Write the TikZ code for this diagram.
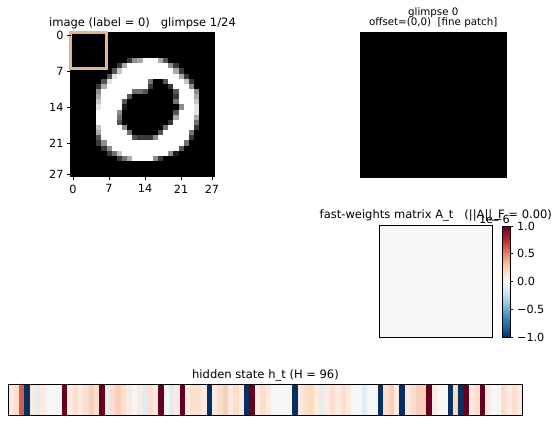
\documentclass[tikz,border=0pt]{standalone}
\usepackage{fontspec}
\setmainfont{DejaVu Sans}
\definecolor{burly}{RGB}{222,184,135}
\definecolor{rb1}{HTML}{67001F}
\definecolor{rb2}{HTML}{B2182B}
\definecolor{rb3}{HTML}{D6604D}
\definecolor{rb4}{HTML}{F4A582}
\definecolor{rb5}{HTML}{FDDBC7}
\definecolor{rb6}{HTML}{F7F7F7}
\definecolor{rb7}{HTML}{D1E5F0}
\definecolor{rb8}{HTML}{92C5DE}
\definecolor{rb9}{HTML}{4393C3}
\definecolor{rb10}{HTML}{2166AC}
\definecolor{rb11}{HTML}{053061}
\definecolor{hR}{HTML}{67001F}
\definecolor{hB}{HTML}{053061}
\definecolor{hS}{HTML}{D6604D}
\definecolor{ha}{RGB}{250,234,224}
\definecolor{hb}{RGB}{252,222,205}
\definecolor{hc}{RGB}{248,207,186}
\definecolor{hw}{RGB}{246,246,246}
\definecolor{hu}{RGB}{228,236,241}
\definecolor{ho}{RGB}{252,221,185}
\begin{document}
\begin{tikzpicture}[x=0.72pt,y=-0.72pt,
  ttl/.style={font=\fontsize{8.3}{10}\selectfont, inner sep=0pt, anchor=base},
  sttl/.style={font=\fontsize{7.4}{9}\selectfont, inner sep=0pt, anchor=base},
  tck/.style={font=\fontsize{8.1}{9.5}\selectfont, inner sep=0pt},
  spine/.style={draw=black, line width=0.6pt},
  tickline/.style={line width=0.6pt}]
\useasboundingbox (0,0) rectangle (560,423);
\def\s{5.142857}
% ---------- MNIST image ----------
\fill[black] (70.5,32.5) rectangle (214.5,176.5);
\foreach \r/\cs in {
 5/{11/11/2,12/12/5,13/13/6,14/16/9,17/17/6,18/18/3},
 6/{9/9/2,10/10/6,11/18/9,19/19/5,20/20/2},
 7/{8/8/3,9/9/7,10/19/9,20/20/6,21/21/2},
 8/{7/7/3,8/8/8,9/20/9,21/21/6,22/22/2},
 9/{6/6/3,7/7/8,8/14/9,15/15/4,18/18/3,19/21/9,22/22/7,23/23/2},
 10/{5/5/2,6/6/6,7/14/9,15/15/2,19/19/2,20/22/9,23/23/5},
 11/{5/5/5,6/11/9,12/13/4,14/14/3,20/20/3,21/23/9,24/24/5},
 12/{5/5/6,6/10/9,11/11/3,20/20/2,21/23/9,24/24/6},
 13/{5/5/7,6/9/9,10/10/3,20/20/4,21/23/9,24/24/7},
 14/{5/5/8,6/9/9,10/10/1,21/21/5,22/23/9,24/24/8},
 15/{5/8/9,9/9/5,20/20/3,21/23/9,24/24/8},
 16/{5/8/9,9/9/4,20/20/6,21/23/9,24/24/6},
 17/{5/8/9,9/9/3,19/19/2,20/23/9,24/24/4},
 18/{5/5/7,6/9/9,10/10/5,18/18/4,19/23/9,24/24/2},
 19/{5/5/6,6/10/9,11/11/4,17/17/3,18/22/9,23/23/4},
 20/{5/5/3,6/11/9,12/12/3,13/15/2,16/16/5,17/22/9,23/23/2},
 21/{5/5/2,6/6/5,7/21/9,22/22/4},
 22/{6/6/2,7/7/5,8/20/9,21/21/3},
 23/{7/7/2,8/8/4,9/9/7,10/18/9,19/19/5,20/20/1},
 24/{9/9/2,10/10/4,11/11/6,12/15/9,16/16/5,17/17/2}}{
  \foreach \a/\b/\v in \cs {
    \pgfmathsetmacro\g{\v*100/9}
    \fill[white!\g!black] ({70.5+\a*\s},{32.5+\r*\s}) rectangle ({70.5+(\b+1)*\s},{32.5+(\r+1)*\s});
  }
}
\draw[spine] (70.5,32.5) rectangle (214.5,176.5);
\draw[burly, line width=1.5pt] (70.5,32.5) rectangle ({70.5+7*\s},{32.5+7*\s});
\foreach \t in {0,7,14,21,27}{
  \draw[tickline] (70.5,{32.5+(\t+0.5)*\s}) -- (67.1,{32.5+(\t+0.5)*\s});
  \node[tck, anchor=east] (yl\t) at (63.7,{32.5+(\t+0.5)*\s}) {\t};
  \draw[tickline] ({70.5+(\t+0.5)*\s},176.5) -- ({70.5+(\t+0.5)*\s},179.9);
  \node[tck, anchor=north] (xl\t) at ({70.5+(\t+0.5)*\s},184.5) {\t};
}
\node[ttl] (t1) at (142.5,26.5) {image (label = 0)\ \ \ glimpse 1/24};
% ---------- glimpse ----------
\fill[black] (360,32.3) rectangle (506.5,178.3);
\node[sttl] (t2a) at (433.25,15.3) {glimpse 0};
\node[sttl] (t2b) at (433.25,26) {offset=(0,0)\ \ [fine patch]};
% ---------- fast weights ----------
\fill[rb6] (379.3,225) rectangle (492.3,337);
\draw[spine] (379.3,225) rectangle (492.3,337);
\node[ttl] (t3) at (435.8,218) {fast-weights matrix A\_t\ \ \ (||A||\_F = 0.00)};
\foreach \i [evaluate=\i as \j using int(\i+1)] in {1,...,10}{
  \shade[top color=rb\i, bottom color=rb\j] (502,{226+(\i-1)*11.1}) rectangle (510,{226+\i*11.1});
}
\draw[spine] (502,226) rectangle (510,337);
\foreach \v/\lab [count=\k] in {0/1.0,1/0.5,2/0.0,3/−0.5,4/−1.0}{
  \draw[tickline] (510,{226+\v*27.75}) -- (513.4,{226+\v*27.75});
  \node[tck, anchor=west] (cl\k) at (516.8,{226+\v*27.75}) {\lab};
}
\node[tck, anchor=base east] (off) at (510,223) {1e−6};
% ---------- hidden state ----------
\node[ttl] (t4) at (265.5,378) {hidden state h\_t (H = 96)};
\foreach \c [count=\i from 0] in {a,b,S,B,a,u,a,w,w,w,R,a,b,a,b,c,b,R,u,b,c,b,a,w,a,u,b,a,R,w,u,a,R,a,b,b,a,B,a,b,c,a,b,a,B,R,a,b,a,w,w,w,w,B,a,b,o,a,u,a,b,a,b,a,w,w,u,w,w,B,b,c,a,B,a,b,c,c,R,a,w,w,B,o,B,R,a,b,R,a,w,w,b,a,b,a}{
  \fill[h\c] ({8.3+\i*5.3583},384.3) rectangle ({8.3+(\i+1)*5.3583},415);
}
\draw[spine] (8.3,384.3) rectangle (522.7,415);
\end{tikzpicture}
\end{document}
